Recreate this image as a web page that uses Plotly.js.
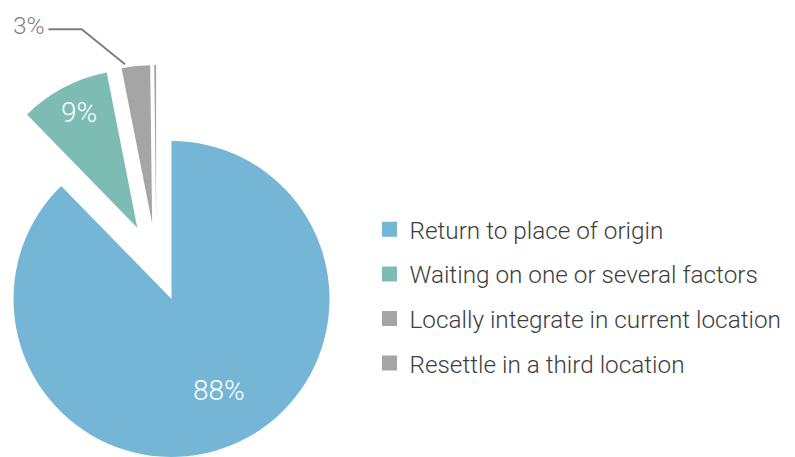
<!DOCTYPE html>
<html><head><meta charset="utf-8">
<script src="https://cdn.plot.ly/plotly-3.0.1.min.js"></script>
<style>
html,body{margin:0;padding:0;overflow:hidden;width:795px;height:457px;background:#fff;}
#chart{position:absolute;left:-250px;top:-250px;width:1295px;height:957px;}
</style></head><body><div id="chart"></div>
<script>
// ---- data ----
const labels = ['Return to place of origin', 'Waiting on one or several factors', 'Locally integrate in current location', 'Resettle in a third location'];
const values = [87.7, 9.2, 2.9, 0.2];
const colors = ['#75b5d6', '#7dbcb3', '#a5a5a5', '#a5a5a5'];

// ---- layout helpers (oversized canvas so pulled slices keep the full radius) ----
const W = 795, H = 457, OX = 250, OY = 250, FW = W + 2 * OX, FH = H + 2 * OY;
const px = x => (x + OX) / FW;
const py = y => 1 - (y + OY) / FH;
function dom(cx, cy, half) { return {x: [px(cx - half), px(cx + half)], y: [py(cy + half), py(cy - half)]}; }

const R = 158, PULL = 0.26;
const FONT = 'Roboto, "Open Sans", sans-serif';
const total = values.reduce((a, b) => a + b, 0);
const pct = values.map(v => Math.round(v / total * 100) + '%');
const clear = 'rgba(0,0,0,0)';

const mainPie = {
  type: 'pie', labels: labels, values: values, sort: false, direction: 'clockwise', rotation: 0,
  marker: {colors: colors.map((c, i) => i === 0 ? c : clear), line: {width: 0}},
  textinfo: 'none', hoverinfo: 'skip', showlegend: false, domain: dom(171.5, 299, R)
};
const pulledPie = {
  type: 'pie', labels: labels, values: values, sort: false, direction: 'clockwise', rotation: 0,
  marker: {colors: colors.map((c, i) => i === 0 ? clear : c), line: {width: 0}},
  pull: values.map((v, i) => i === 0 ? 0 : PULL),
  textinfo: 'none', hoverinfo: 'skip', showlegend: false, domain: dom(156.4, 264, R * (1 + PULL))
};
const legendTraces = labels.map((l, i) => ({
  type: 'scatter', x: [null], y: [null], mode: 'markers', name: l, legendgroup: 'g' + i,
  marker: {symbol: 'square', size: 15, color: colors[i]}, hoverinfo: 'skip'
}));

const ann = (x, y, text, size, color) => ({x: px(x), y: py(y), xref: 'paper', yref: 'paper', text: text, showarrow: false,
  xanchor: 'center', yanchor: 'middle', font: {family: FONT, size: size, color: color, weight: 300}});

const LEG_FONT = 24.3;
const layout = {
  width: FW, height: FH, margin: {l: 0, r: 0, t: 0, b: 0},
  paper_bgcolor: '#fff', plot_bgcolor: '#fff',
  font: {family: FONT, weight: 300, color: '#404040'},
  xaxis: {visible: false}, yaxis: {visible: false},
  showlegend: true,
  legend: {x: px(369.5), xanchor: 'left', y: py(296.5), yanchor: 'middle', traceorder: 'grouped',
    tracegroupgap: 44.6 - (LEG_FONT * 1.3 + 3),
    bgcolor: clear, borderwidth: 0, font: {family: FONT, size: LEG_FONT, color: '#3d3d3d', weight: 300}},
  annotations: [
    ann(219, 390.7, pct[0], 28, '#ffffff'),
    ann(78.7, 112.5, pct[1], 28, '#ffffff'),
    ann(29, 25, pct[2], 24.5, '#7f7f7f')
  ],
  shapes: [{type: 'path', xref: 'paper', yref: 'paper',
    path: `M ${px(48.5)} ${py(29.3)} L ${px(81.7)} ${py(29.3)} L ${px(125)} ${py(64.3)}`,
    line: {color: '#7f7f7f', width: 2}}]
};
Plotly.newPlot('chart', [mainPie, pulledPie].concat(legendTraces), layout, {staticPlot: true, displayModeBar: false});
</script></body></html>
